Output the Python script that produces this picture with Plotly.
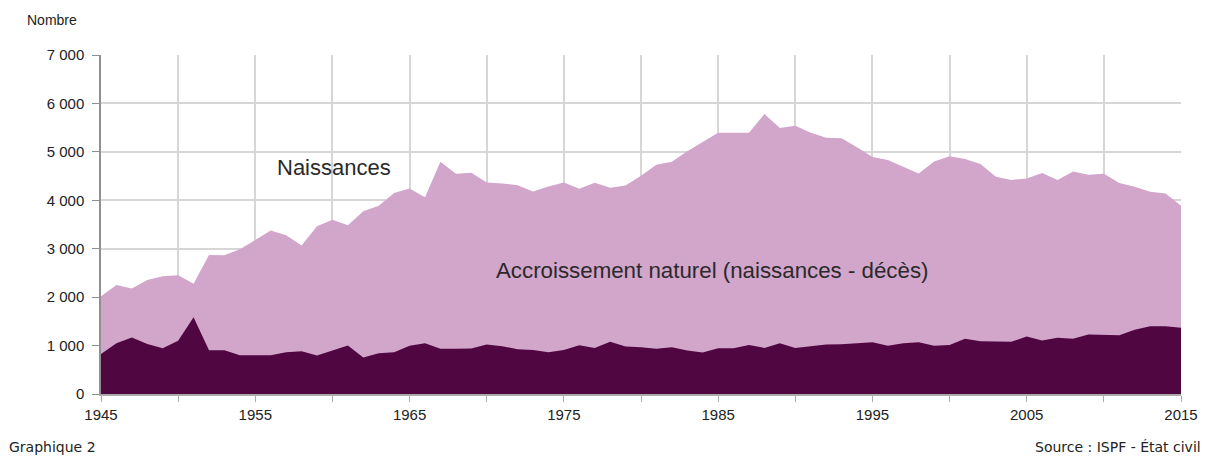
import plotly.graph_objects as go

years = list(range(1945, 2016))

naissances = [
    2020, 2250, 2181, 2353, 2429, 2450, 2277, 2871, 2864, 2988,
    3181, 3375, 3278, 3064, 3464, 3596, 3485, 3775, 3885, 4150,
    4244, 4065, 4796, 4548, 4569, 4369, 4348, 4313, 4182, 4286,
    4369, 4237, 4362, 4258, 4306, 4507, 4734, 4796, 5010, 5197,
    5397, 5397, 5397, 5783, 5493, 5541, 5397, 5293, 5279, 5093,
    4893, 4831, 4700, 4555, 4803, 4907, 4852, 4748, 4486, 4417,
    4451, 4562, 4417, 4596, 4527, 4548, 4355, 4279, 4175, 4141,
    3885,
]

deces = [
    828, 1049, 1166, 1035, 945, 1097, 1587, 904, 904, 800,
    800, 800, 863, 883, 794, 904, 1001, 752, 842, 863,
    994, 1049, 932, 932, 939, 1021, 987, 925, 911, 863,
    911, 1008, 952, 1077, 980, 966, 932, 966, 897, 856,
    945, 945, 1014, 952, 1049, 952, 994, 1021, 1028, 1042,
    1070, 994, 1049, 1070, 994, 1014, 1139, 1090, 1077, 1077,
    1187, 1104, 1159, 1139, 1228, 1228, 1215, 1325, 1401, 1401,
    1366,
]

y_ticks = [0, 1000, 2000, 3000, 4000, 5000, 6000, 7000]
y_labels = ["0", "1 000", "2 000", "3 000", "4 000", "5 000", "6 000", "7 000"]
x_ticks = list(range(1945, 2016, 5))
x_labels = [str(y) if (y - 1945) % 10 == 0 else "" for y in x_ticks]

light = "#D2A5CB"
dark = "#500640"

fig = go.Figure()
fig.add_trace(go.Scatter(
    x=years, y=naissances, mode="lines", line=dict(width=0, color=light),
    fill="tozeroy", fillcolor=light, name="Naissances", hoverinfo="x+y",
))
fig.add_trace(go.Scatter(
    x=years, y=deces, mode="lines", line=dict(width=0, color=dark),
    fill="tozeroy", fillcolor=dark, name="Décès", hoverinfo="x+y",
))

fig.update_layout(
    width=1210, height=456,
    margin=dict(l=101, r=27, t=55, b=62),
    paper_bgcolor="white", plot_bgcolor="white",
    showlegend=False,
    font=dict(family="Liberation Sans, Arial, sans-serif", size=15, color="#222"),
)
fig.update_xaxes(
    range=[1945, 2015], tickmode="array", tickvals=x_ticks, ticktext=x_labels,
    showgrid=True, gridcolor="#d6d6d6", gridwidth=1.5,
    ticks="outside", ticklen=6, tickcolor="#aaaaaa",
    showline=True, linecolor="#aaaaaa", linewidth=1.5, zeroline=False,
    tickfont=dict(size=15, color="#222"),
)
fig.update_yaxes(
    range=[0, 7000], tickmode="array", tickvals=y_ticks, ticktext=y_labels,
    showgrid=True, gridcolor="#d6d6d6", gridwidth=1.5,
    ticks="outside", ticklen=7, tickcolor="#909090",
    showline=True, linecolor="#909090", linewidth=1.5, zeroline=False,
    tickfont=dict(size=15, color="#222"), ticklabelstandoff=5,
)

fig.add_annotation(x=1960.1, y=4667, text="Naissances", showarrow=False,
                   xanchor="center", yanchor="middle",
                   font=dict(size=22, color="#2a2a2a"))
fig.add_annotation(x=1984.65, y=2560, text="Accroissement naturel (naissances - décès)",
                   showarrow=False, xanchor="center", yanchor="middle",
                   font=dict(size=22.3, color="#2a2a2a"))
fig.add_annotation(xref="paper", yref="paper", x=-0.0702, y=1.0, yshift=35,
                   text="Nombre", showarrow=False, xanchor="left", yanchor="middle",
                   font=dict(size=14, color="#222"))
fig.add_annotation(xref="paper", yref="paper", x=-0.0869, y=0, yshift=-53,
                   text="Graphique 2", showarrow=False, xanchor="left", yanchor="middle",
                   font=dict(family="DejaVu Sans", size=14, color="#222"))
fig.add_annotation(xref="paper", yref="paper", x=1.0203, y=0, yshift=-53,
                   text="Source : ISPF - État civil", showarrow=False,
                   xanchor="right", yanchor="middle",
                   font=dict(family="DejaVu Sans", size=14, color="#222"))

fig.write_html("out.html", config={"displayModeBar": False},
               post_script="document.body.style.margin='0';document.body.style.overflow='hidden';")
